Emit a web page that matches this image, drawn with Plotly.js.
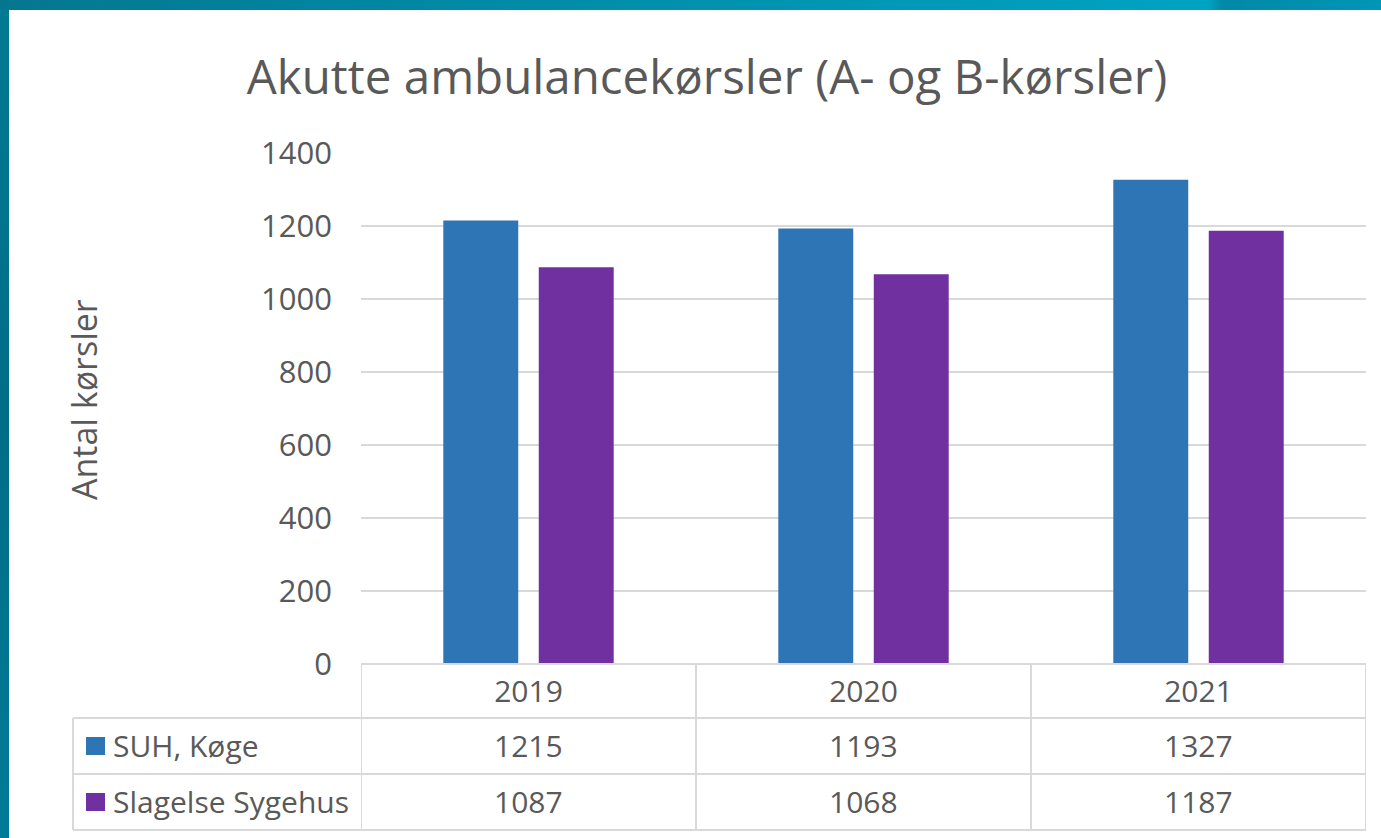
<!DOCTYPE html>
<html>
<head>
<meta charset="utf-8">
<script src="https://cdn.plot.ly/plotly-3.0.1.min.js"></script>
<style>
  html, body { margin: 0; padding: 0; width: 1381px; height: 838px; overflow: hidden; }
  body { background: linear-gradient(to bottom, #007a93 0%, #006d88 50%, #007b97 100%); position: relative; }
  #topband { position: absolute; left: 0; top: 0; width: 1381px; height: 10px;
    background: linear-gradient(to right, #06768f 0%, #0085a0 25%, #0096b4 60%, #00a3c3 87.5%, #0089a8 88.5%, #0096b6 100%); }
  #panel { position: absolute; left: 9px; top: 10px; width: 1372px; height: 828px; background: #ffffff; }
  #chart { position: absolute; left: 0; top: 0; width: 1381px; height: 838px; }
</style>
</head>
<body>
<div id="topband"></div>
<div id="panel"></div>
<div id="chart"></div>
<script>
const categories = ["2019", "2020", "2021"];
const seriesNames = ["SUH, Køge", "Slagelse Sygehus"];
const suhKoge = [1215, 1193, 1327];
const slagelse = [1087, 1068, 1187];
const yTicks = [0, 200, 400, 600, 800, 1000, 1200, 1400];
const titleText = "Akutte ambulancekørsler (A- og B-kørsler)";
const yTitleText = "Antal kørsler";

const colors = ["#2E75B6", "#7030A0"];
const seriesValues = [suhKoge, slagelse];
const FONT = "'Open Sans', Lato, sans-serif";
const TXT = "#595959";
const LINE = "#D9D9D9";

const W = 1381, H = 838;
const mL = 361, mR = 15, mT = 153, mB = 174;
const pw = W - mL - mR, ph = H - mT - mB;
const px = x => (x - mL) / pw;           // absolute px -> paper x
const py = y => (H - mB - y) / ph;       // absolute px -> paper y

const traces = seriesValues.map((vals, i) => ({
  type: "bar",
  x: categories,
  y: vals,
  name: seriesNames[i],
  marker: { color: colors[i] },
  hoverinfo: "x+y+name"
}));

const shapes = [];
const annotations = [];
// horizontal table lines
[718, 774, 830].forEach(y => shapes.push({ type: "line", xref: "paper", yref: "paper",
  x0: px(73), x1: 1, y0: py(y), y1: py(y), line: { color: LINE, width: 2 } }));
shapes.push({ type: "line", xref: "paper", yref: "paper", x0: 0, x1: 1, y0: 0, y1: 0, line: { color: LINE, width: 2 } });
// vertical table lines
for (let k = 0; k <= categories.length; k++) {
  shapes.push({ type: "line", xref: "x", yref: "paper", x0: k - 0.5, x1: k - 0.5, y0: 0, y1: py(830),
    line: { color: LINE, width: 2 } });
}
shapes.push({ type: "line", xref: "paper", yref: "paper", x0: px(73), x1: px(73), y0: py(718), y1: py(830),
  line: { color: LINE, width: 2 } });

const rowCenters = [746, 802];
const swatchTop = [737, 793];
seriesNames.forEach((name, i) => {
  shapes.push({ type: "rect", xref: "paper", yref: "paper",
    x0: px(86), x1: px(105), y0: py(swatchTop[i]), y1: py(swatchTop[i] + 18),
    fillcolor: colors[i], line: { width: 0 } });
  annotations.push({ xref: "paper", yref: "paper", x: px(111), y: py(rowCenters[i]),
    xanchor: "left", yanchor: "middle", showarrow: false, text: name,
    font: { family: FONT, size: 30, color: TXT } });
  seriesValues[i].forEach((v, j) => {
    annotations.push({ xref: "x", yref: "paper", x: j, y: py(rowCenters[i]),
      xanchor: "center", yanchor: "middle", showarrow: false, text: String(v),
      font: { family: FONT, size: 30, color: TXT } });
  });
});
annotations.push({ xref: "paper", yref: "paper", x: px(84), y: py(400), textangle: -90,
  xanchor: "center", yanchor: "middle", showarrow: false, text: yTitleText,
  font: { family: FONT, size: 34, color: TXT } });

const layout = {
  width: W, height: H,
  margin: { l: mL, r: mR, t: mT, b: mB, pad: 0 },
  paper_bgcolor: "rgba(0,0,0,0)",
  plot_bgcolor: "rgba(0,0,0,0)",
  title: { text: titleText, x: 707 / W, xref: "container", xanchor: "center", y: 1 - 77 / H, yanchor: "middle",
    font: { family: FONT, size: 47.5, color: TXT } },
  showlegend: false,
  barmode: "group",
  bargap: 0.43,
  bargroupgap: 0.215,
  xaxis: {
    type: "category", range: [-0.5, categories.length - 0.5], autorange: false,
    showgrid: false, zeroline: false, showline: false,
    ticks: "", ticklabelstandoff: 7,
    tickfont: { family: FONT, size: 30, color: TXT },
    fixedrange: true
  },
  yaxis: {
    range: [0, 1400], autorange: false, tickvals: yTicks, ticktext: yTicks.map(String),
    showgrid: true, gridcolor: LINE, gridwidth: 1.5, zeroline: false, showline: false,
    ticks: "", ticklabelstandoff: 28,
    tickfont: { family: FONT, size: 31, color: TXT },
    fixedrange: true
  },
  shapes: shapes,
  annotations: annotations
};

Plotly.newPlot("chart", traces, layout, { displayModeBar: false });
</script>
</body>
</html>
